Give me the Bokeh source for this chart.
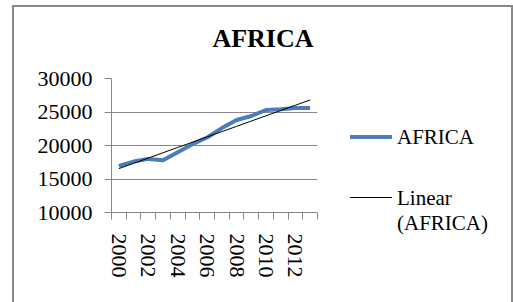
import numpy as np
from bokeh.plotting import figure
from bokeh.layouts import row
from bokeh.models import Range1d, FixedTicker, Title, Div
from bokeh.embed import file_html
from bokeh.resources import INLINE

# ---- data ----
years = [2000, 2001, 2002, 2003, 2004, 2005, 2006,
         2007, 2008, 2009, 2010, 2011, 2012, 2013]
africa = [16950, 17600, 18000, 17800, 19000, 20200, 21200,
          22600, 23800, 24400, 25300, 25400, 25600, 25600]
x_tick_years = [2000, 2002, 2004, 2006, 2008, 2010, 2012]
y_ticks = [10000, 15000, 20000, 25000, 30000]
series_name = "AFRICA"
trend_lines = ["Linear", "(AFRICA)"]
title_text = "AFRICA"

# linear trendline (least squares), as in the spreadsheet
coef = np.polyfit(years, africa, 1)
trend = list(np.polyval(coef, years))
boundaries = [y - 0.5 for y in years] + [years[-1] + 0.5]

FONT = "Liberation Serif"
GRID = "#868686"
BLUE = "#4a7ebb"
BORDER = "2px solid #888888"

# ---------------- main chart ----------------
p = figure(width=316, height=295,
           x_range=Range1d(years[0] - 0.5, years[-1] + 0.5),
           y_range=Range1d(y_ticks[0], y_ticks[-1]),
           output_backend="svg", toolbar_location=None, title=None,
           min_border_left=97, min_border_right=13,
           min_border_top=71, min_border_bottom=90)
p.outline_line_color = None
p.background_fill_color = "white"
p.border_fill_color = "white"

p.xgrid.visible = False
p.ygrid.ticker = FixedTicker(ticks=y_ticks)
p.ygrid.grid_line_color = GRID
p.ygrid.grid_line_width = 1

ya = p.yaxis[0]
ya.ticker = FixedTicker(ticks=y_ticks)
ya.axis_line_color = GRID
ya.major_tick_line_color = GRID
ya.major_tick_in = 0
ya.major_tick_out = 7
ya.minor_tick_line_color = None
ya.major_label_standoff = 12
ya.major_label_text_font = FONT
ya.major_label_text_font_size = "22px"
ya.major_label_text_color = "black"

xa = p.xaxis[0]
xa.ticker = FixedTicker(ticks=x_tick_years, minor_ticks=boundaries)
xa.axis_line_color = GRID
xa.major_tick_line_color = None
xa.major_tick_in = 0
xa.major_tick_out = 0
xa.minor_tick_line_color = GRID
xa.minor_tick_in = 0
xa.minor_tick_out = 7
xa.major_label_standoff = 14
xa.major_label_orientation = "vertical"
xa.major_label_text_font = FONT
xa.major_label_text_font_size = "22px"
xa.major_label_text_color = "black"

p.line(years, africa, line_color=BLUE, line_width=4, line_join="round")
p.line(years, trend, line_color="black", line_width=1)

# spacer between frame and title, then the title itself
p.add_layout(Title(text=" ", text_font_size="1px", standoff=23), "above")
p.add_layout(Title(text=title_text, align="right", offset=4, standoff=0,
                   text_font=FONT, text_font_size="26px",
                   text_font_style="bold", text_color="black"), "above")

# ---------------- legend (outside the plot area, like the original) ----------
def swatch(top, thick, color):
    return (f'<div style="position:absolute;left:20px;top:{top}px;width:42px;'
            f'height:0;border-top:{thick}px solid {color};"></div>')


def label(top, text):
    return (f'<div style="position:absolute;left:67px;top:{top}px;'
            f'line-height:24px;white-space:nowrap;">{text}</div>')


legend_html = (
    f'<div style="position:relative;width:181px;height:295px;'
    f'font-family:\'{FONT}\';font-size:21px;color:black;">'
    + swatch(128, 4, BLUE) + label(118, series_name)
    + swatch(190, 1, "black") + label(179, trend_lines[0])
    + label(204, trend_lines[1])
    + '</div>'
)
legend_div = Div(text=legend_html, width=181, height=295, margin=0)

layout = row(p, legend_div, spacing=0,
             styles={"margin-left": "12px", "margin-top": "5px",
                     "border-left": BORDER, "border-right": BORDER,
                     "border-top": BORDER})

open("out.html", "w").write(file_html(layout, INLINE))
